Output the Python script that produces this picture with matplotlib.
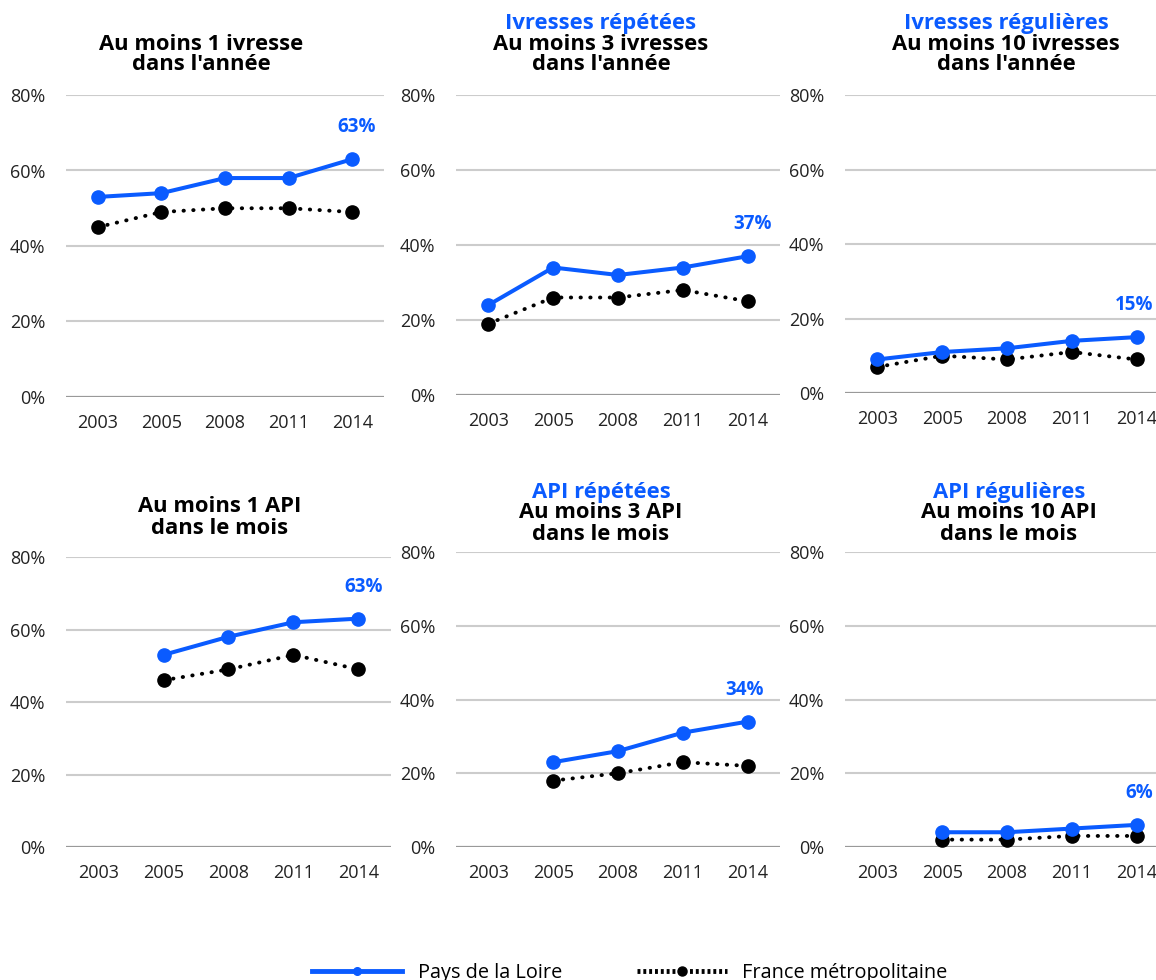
import matplotlib
matplotlib.use("Agg")
import matplotlib.pyplot as plt
from matplotlib.lines import Line2D
import numpy as np

plt.rcParams['font.family'] = ['Open Sans', 'DejaVu Sans']

BLUE = '#0a5bff'
GRID = '#cccccc'
TXT = '#222222'

years = ['2003', '2005', '2008', '2011', '2014']

# ivresses (drunkenness), yearly
pdl_ivr1 = [53, 54, 58, 58, 63]
fr_ivr1 = [45, 49, 50, 50, 49]
pdl_ivr3 = [24, 34, 32, 34, 37]
fr_ivr3 = [19, 26, 26, 28, 25]
pdl_ivr10 = [9, 11, 12, 14, 15]
fr_ivr10 = [7, 10, 9, 11, 9]

# API (binge drinking), monthly - not measured in 2003
pdl_api1 = [None, 53, 58, 62, 63]
fr_api1 = [None, 46, 49, 53, 49]
pdl_api3 = [None, 23, 26, 31, 34]
fr_api3 = [None, 18, 20, 23, 22]
pdl_api10 = [None, 4, 4, 5, 6]
fr_api10 = [None, 2, 2, 3, 3]

titles_blue = [None, 'Ivresses répétées', 'Ivresses régulières',
               None, 'API répétées', 'API régulières']
titles_black = [["Au moins 1 ivresse", "dans l'année"],
                ["Au moins 3 ivresses", "dans l'année"],
                ["Au moins 10 ivresses", "dans l'année"],
                ["Au moins 1 API", "dans le mois"],
                ["Au moins 3 API", "dans le mois"],
                ["Au moins 10 API", "dans le mois"]]

pdl_series = [pdl_ivr1, pdl_ivr3, pdl_ivr10, pdl_api1, pdl_api3, pdl_api10]
fr_series = [fr_ivr1, fr_ivr3, fr_ivr10, fr_api1, fr_api3, fr_api10]

W, H = 1156, 980
# plot boxes in pixels: left, right, top (80%), bottom (0%)
boxes = [(66, 384, 95, 397), (456, 780, 95, 395), (845, 1169, 95, 393),
         (66, 391, 557, 847), (456, 780, 552, 847), (845, 1169, 552, 847)]
# title anchors: x centre, y of first line
title_pos = [(201, 44), (601, 23), (1006, 23), (220, 507), (601, 492), (1009, 492)]
LINE_STEP = 21
# horizontal nudge (points) of the last-value label, keeps it inside the figure
label_dx = [3, 3.5, -1.5, 4, -2, 2]

fig = plt.figure(figsize=(W / 100, H / 100), dpi=100)

def to_arr(v):
    return np.array([np.nan if a is None else a for a in v], dtype=float)

for i in range(6):
    l, r, t, b = boxes[i]
    ax = fig.add_axes([l / W, 1 - b / H, (r - l) / W, (b - t) / H])
    x = np.arange(len(years))
    pdl = to_arr(pdl_series[i])
    fr = to_arr(fr_series[i])

    ax.plot(x, fr, color='black', lw=2.8, linestyle=(0, (0.1, 2.4)),
            dash_capstyle='round', marker='o', ms=9.5, zorder=3, clip_on=False)
    ax.plot(x, pdl, color=BLUE, lw=2.9, marker='o', ms=9.5, zorder=4, clip_on=False)

    last = pdl[-1]
    ax.annotate('%d%%' % last, (x[-1], last), xytext=(label_dx[i], 23),
                textcoords='offset points', ha='center', va='center',
                color=BLUE, fontsize=13.5, fontweight='bold')

    ax.set_xlim(-0.5, len(years) - 0.5)
    ax.set_ylim(0, 80)
    ax.set_yticks([0, 20, 40, 60, 80])
    ax.set_yticklabels(['0%', '20%', '40%', '60%', '80%'])
    ax.set_xticks(x)
    ax.set_xticklabels(years)
    ax.tick_params(length=0, labelsize=13, labelcolor=TXT)
    ax.tick_params(axis='y', pad=15)
    ax.tick_params(axis='x', pad=12)
    for s in ax.spines.values():
        s.set_visible(False)
    for v in [20, 40, 60, 80]:
        ax.axhline(v, color=GRID, lw=1.5, zorder=1)
    ax.axhline(0, color='#999999', lw=1.6, zorder=1)

    tx, ty = title_pos[i]
    lines = [(titles_blue[i], BLUE)] if titles_blue[i] else []
    lines += [(s, 'black') for s in titles_black[i]]
    for k, (s, c) in enumerate(lines):
        fig.text(tx / W, 1 - (ty + k * LINE_STEP) / H, s, color=c, fontsize=15.8,
                 fontweight='bold', ha='center', va='center')

handles = [Line2D([], [], color=BLUE, lw=3.5, marker='o', ms=5.5),
           Line2D([], [], color='black', lw=3.5, linestyle=(0, (0.6, 0.6)), marker='o', ms=6.5)]
fig.legend(handles, ['Pays de la Loire', 'France métropolitaine'], loc='center',
           bbox_to_anchor=(630 / W, 1 - 973 / H), ncol=2, frameon=False, fontsize=14.3,
           handlelength=4.5, handletextpad=0.8, columnspacing=3.8, borderpad=0)

fig.savefig('out.png', dpi=100)
